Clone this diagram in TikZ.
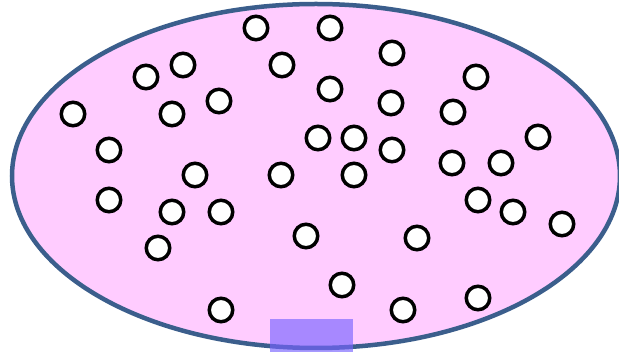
\documentclass[tikz,border=0pt]{standalone}
\usepackage{tikz}
\usetikzlibrary{shapes,positioning}
\usepackage{xcolor}
\definecolor{regionfill}{RGB}{255,204,255}
\definecolor{regionborder}{RGB}{59,94,140}
\definecolor{patchcolor}{RGB}{120,100,255}

\begin{document}
\begin{tikzpicture}[
    x=1pt, y=-1pt,
    region/.style={draw=regionborder, line width=4.5pt, fill=regionfill},
    dot/.style={circle, draw=black, line width=3.5pt, fill=white, minimum size=23.5pt, inner sep=0pt},
    patch/.style={fill=patchcolor, fill opacity=0.65}
]
\useasboundingbox (0,0) rectangle (619,352);

% Region
\draw[region] (316,176) ellipse [x radius=304, y radius=172];

% Particles
\node[dot] (p1) at (256,28) {};
\node[dot] (p2) at (330,28) {};
\node[dot] (p3) at (392,53) {};
\node[dot] (p4) at (183,65) {};
\node[dot] (p5) at (282,65) {};
\node[dot] (p6) at (146,77) {};
\node[dot] (p7) at (476,77) {};
\node[dot] (p8) at (330,89) {};
\node[dot] (p9) at (219,101) {};
\node[dot] (p10) at (391,103) {};
\node[dot] (p11) at (73,114) {};
\node[dot] (p12) at (172,114) {};
\node[dot] (p13) at (453,112) {};
\node[dot] (p14) at (318,138) {};
\node[dot] (p15) at (354,138) {};
\node[dot] (p16) at (538,137) {};
\node[dot] (p17) at (109,150) {};
\node[dot] (p18) at (392,150) {};
\node[dot] (p19) at (452,163) {};
\node[dot] (p20) at (501,163) {};
\node[dot] (p21) at (195,175) {};
\node[dot] (p22) at (281,175) {};
\node[dot] (p23) at (354,175) {};
\node[dot] (p24) at (109,200) {};
\node[dot] (p25) at (478,200) {};
\node[dot] (p26) at (172,212) {};
\node[dot] (p27) at (221,212) {};
\node[dot] (p28) at (513,212) {};
\node[dot] (p29) at (562,224) {};
\node[dot] (p30) at (306,236) {};
\node[dot] (p31) at (417,238) {};
\node[dot] (p32) at (158,248) {};
\node[dot] (p33) at (342,285) {};
\node[dot] (p34) at (478,298) {};
\node[dot] (p35) at (221,310) {};
\node[dot] (p36) at (403,310) {};

% Opening
\fill[patch] (270,319) rectangle (353,352);

\end{tikzpicture}
\end{document}
